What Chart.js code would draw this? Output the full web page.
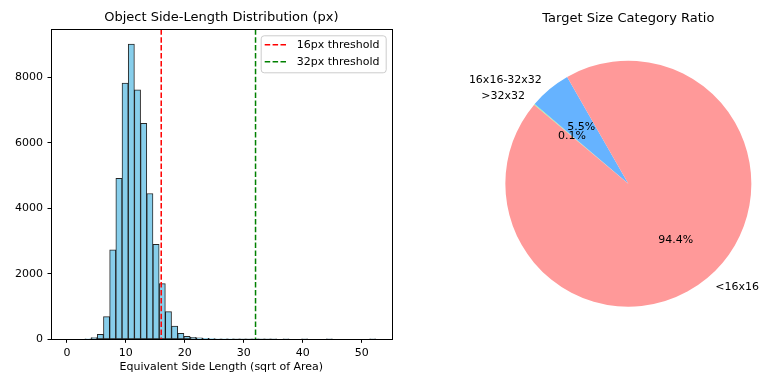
<!DOCTYPE html>
<html>
<head>
<meta charset="utf-8">
<script src="https://cdn.jsdelivr.net/npm/chart.js@4.4.1/dist/chart.umd.min.js"></script>
<style>
  body { margin: 0; background: #fff; }
  #wrap { position: relative; width: 760px; height: 374px; }
  canvas { position: absolute; top: 0; }
</style>
</head>
<body>
<div id="wrap">
  <canvas id="hist" width="400" height="374" style="left:0"></canvas>
  <canvas id="pie" width="370" height="374" style="left:390px"></canvas>
</div>
<script>
// histogram bins (centre of each bin, bin width ~1.05)
const binCenters = [
  0.425, 1.475, 2.525, 3.575, 4.625, 5.675, 6.725, 7.775, 8.825, 9.875,
  10.925, 11.975, 13.025, 14.075, 15.125, 16.175, 17.225, 18.275, 19.325, 20.375,
  21.425, 22.475, 23.525, 24.575, 25.625, 26.675, 27.725, 28.775, 29.825, 30.875,
  31.925, 32.975, 34.025, 35.075, 36.125, 37.175, 38.225, 39.275, 40.325, 41.375,
  42.425, 43.475, 44.525, 45.575, 46.625, 47.675, 48.725, 49.775, 50.825, 51.875
];
const binCounts = [
  0, 0, 0, 10, 55, 150, 690, 2730, 4910, 7820,
  9010, 7610, 6590, 4450, 2900, 1700, 845, 400, 180, 90,
  60, 45, 30, 22, 15, 12, 8, 5, 3, 2,
  2, 1, 1, 1, 0, 1, 0, 0, 1, 0,
  0, 0, 1, 0, 0, 0, 0, 0, 0, 1
];
const yTickValues = [0, 2000, 4000, 6000, 8000];
const xTickValues = [0, 10, 20, 30, 40, 50];
const thresholds = [16, 32];
const thresholdLabels = ['16px threshold', '32px threshold'];
const thresholdColors = ['#ff0000', '#008000'];

const sizeCategories = ['<16x16', '16x16-32x32', '>32x32'];
const sizeRatios = [94.4, 5.5, 0.1];
const sliceColors = ['#ff9999', '#66b3ff', '#99ff99'];

Chart.defaults.font.family = "'DejaVu Sans', sans-serif";
Chart.defaults.font.size = 11;
Chart.defaults.color = '#000';

const font11 = "11px 'DejaVu Sans', sans-serif";

// frame, threshold lines and the legend box inside the plot
const histExtras = {
  id: 'histExtras',
  afterDatasetsDraw(chart) {
    const ctx = chart.ctx;
    const area = chart.chartArea;
    const xScale = chart.scales.x;
    ctx.save();
    ctx.lineWidth = 1.5;
    ctx.setLineDash([5.5, 2.4]);
    thresholds.forEach((t, i) => {
      const px = xScale.getPixelForValue(t);
      ctx.strokeStyle = thresholdColors[i];
      ctx.beginPath();
      ctx.moveTo(px, area.top);
      ctx.lineTo(px, area.bottom);
      ctx.stroke();
    });
    ctx.restore();
  },
  afterDraw(chart) {
    const ctx = chart.ctx;
    const area = chart.chartArea;
    ctx.save();
    ctx.strokeStyle = '#000';
    ctx.lineWidth = 1;
    const l = Math.round(area.left) + 0.5, r = Math.round(area.right) + 0.5;
    const t = Math.round(area.top) + 0.5, b = Math.round(area.bottom) + 0.5;
    ctx.strokeRect(l, t, r - l, b - t);

    // legend
    const bx = area.right - 131, by = area.top + 6, bw = 125, bh = 37;
    ctx.fillStyle = 'rgba(255,255,255,0.8)';
    ctx.strokeStyle = '#cccccc';
    ctx.beginPath();
    ctx.roundRect(bx + 0.5, by + 0.5, bw, bh, 3);
    ctx.fill();
    ctx.stroke();
    ctx.font = font11;
    ctx.textBaseline = 'middle';
    ctx.textAlign = 'left';
    thresholdLabels.forEach((lab, i) => {
      const y = by + 9.5 + i * 17;
      ctx.strokeStyle = thresholdColors[i];
      ctx.lineWidth = 1.5;
      ctx.setLineDash([5.5, 2.4]);
      ctx.beginPath();
      ctx.moveTo(bx + 4, y);
      ctx.lineTo(bx + 27, y);
      ctx.stroke();
      ctx.setLineDash([]);
      ctx.fillStyle = '#000';
      ctx.fillText(lab, bx + 36, y);
    });
    ctx.restore();
  }
};

new Chart(document.getElementById('hist'), {
  type: 'bar',
  data: {
    datasets: [{
      data: binCenters.map((c, i) => ({ x: c, y: binCounts[i] })),
      backgroundColor: '#87ceeb',
      borderColor: 'rgba(0,0,0,0.85)',
      borderWidth: 1,
      borderSkipped: false,
      barPercentage: 1,
      categoryPercentage: 1
    }]
  },
  options: {
    responsive: false,
    devicePixelRatio: 1,
    animation: false,
    layout: { padding: { left: 0, right: 8.3, top: 0, bottom: 0 } },
    plugins: {
      legend: { display: false },
      tooltip: { enabled: false },
      title: {
        display: true,
        fullSize: false,
        text: 'Object Side-Length Distribution (px)',
        font: { size: 13, weight: 'normal', lineHeight: 1.2 },
        color: '#000',
        padding: { top: 10, bottom: 3.7 }
      }
    },
    scales: {
      x: {
        type: 'linear',
        min: -2.7,
        max: 55.1,
        offset: false,
        grid: { display: true, offset: false, drawOnChartArea: false, drawTicks: true, tickLength: 3.5, tickColor: '#000' },
        border: { display: false },
        afterBuildTicks(scale) { scale.ticks = xTickValues.map(v => ({ value: v })); },
        ticks: { padding: 3.5, color: '#000', maxRotation: 0, callback: v => String(v) },
        title: { display: true, text: 'Equivalent Side Length (sqrt of Area)', color: '#000', font: { size: 11 }, padding: { top: 0, bottom: 0.7 } },
        afterFit(scale) { scale.height = 34.7; }
      },
      y: {
        min: 0,
        max: 9460,
        grid: { display: true, drawOnChartArea: false, drawTicks: true, tickLength: 3.5, tickColor: '#000' },
        border: { display: false },
        afterBuildTicks(scale) { scale.ticks = yTickValues.map(v => ({ value: v })); },
        ticks: { padding: 4.5, color: '#000', callback: v => String(v) },
        afterFit(scale) { scale.width = 51; }
      }
    }
  },
  plugins: [histExtras]
});

// pie labels: category at 1.1 r, percentage at 0.6 r
const pieLabels = {
  id: 'pieLabels',
  afterDraw(chart) {
    const ctx = chart.ctx;
    const arcs = chart.getDatasetMeta(0).data;
    const cats = chart.data.labels;
    const vals = chart.data.datasets[0].data;
    ctx.save();
    ctx.font = font11;
    ctx.fillStyle = '#000';
    ctx.textBaseline = 'middle';
    arcs.forEach((arc, i) => {
      const mid = (arc.startAngle + arc.endAngle) / 2;
      const r = arc.outerRadius;
      const lx = arc.x + Math.cos(mid) * r * 1.1;
      const ly = arc.y + Math.sin(mid) * r * 1.1;
      ctx.textAlign = lx > arc.x ? 'left' : 'right';
      ctx.fillText(cats[i], lx, ly);
    });
    arcs.forEach((arc, i) => {
      const mid = (arc.startAngle + arc.endAngle) / 2;
      const r = arc.outerRadius;
      ctx.textAlign = 'center';
      ctx.fillText(vals[i].toFixed(1) + '%', arc.x + Math.cos(mid) * r * 0.6, arc.y + Math.sin(mid) * r * 0.6);
    });
    ctx.restore();
  }
};

// matplotlib runs counter-clockwise from 140deg; Chart.js runs clockwise, so reverse
new Chart(document.getElementById('pie'), {
  type: 'pie',
  data: {
    labels: sizeCategories.slice().reverse(),
    datasets: [{
      data: sizeRatios.slice().reverse(),
      backgroundColor: sliceColors.slice().reverse(),
      borderWidth: 0
    }]
  },
  options: {
    responsive: false,
    devicePixelRatio: 1,
    animation: false,
    rotation: -50,
    layout: { padding: { left: 115, right: 8.3, top: 0, bottom: 67.3 } },
    plugins: {
      legend: { display: false },
      tooltip: { enabled: false },
      title: {
        display: true,
        fullSize: false,
        text: 'Target Size Category Ratio',
        font: { size: 13, weight: 'normal', lineHeight: 1.2 },
        color: '#000',
        padding: { top: 10.4, bottom: 34.7 }
      }
    }
  },
  plugins: [pieLabels]
});
</script>
</body>
</html>
